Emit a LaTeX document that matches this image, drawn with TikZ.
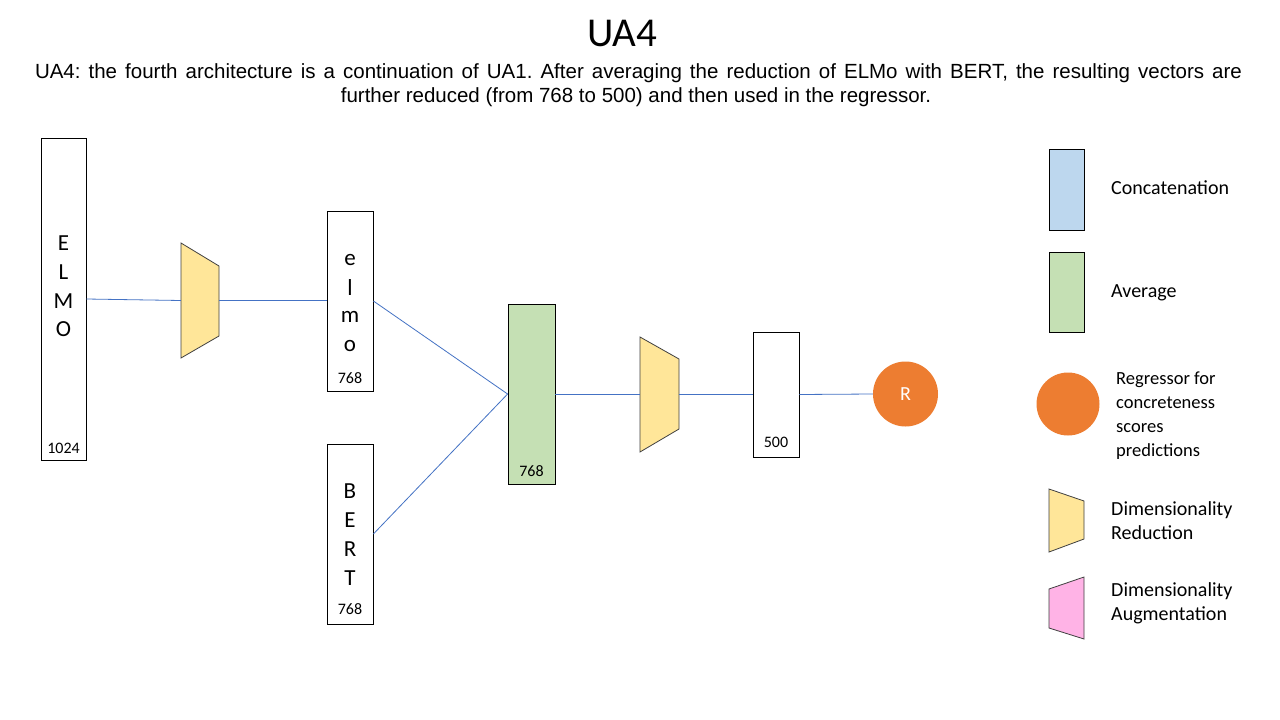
\documentclass[tikz,border=0pt]{standalone}
\usepackage{fontspec}
\setmainfont{Carlito}
\newfontfamily\arialfont{Liberation Sans}
\definecolor{linkblue}{HTML}{4472C4}
\definecolor{redyellow}{HTML}{FFE699}
\definecolor{avggreen}{HTML}{C5E0B4}
\definecolor{catblue}{HTML}{BDD7EE}
\definecolor{regorange}{HTML}{ED7D31}
\definecolor{augpink}{HTML}{FFB3E6}
\definecolor{trapedge}{HTML}{404040}
\frenchspacing
\begin{document}
\begin{tikzpicture}[x=1pt,y=-1pt,
  vec/.style={draw=black, line width=0.8pt, fill=white, inner sep=0pt},
  letter/.style={font=\fontsize{23}{26}\selectfont, inner sep=0pt},
  dimnum/.style={font=\fontsize{16}{18}\selectfont, inner sep=0pt},
  link/.style={draw=linkblue, line width=0.8pt},
  trap/.style={draw=trapedge, line width=0.8pt, fill=redyellow},
  ghost/.style={inner sep=0pt, minimum width=#1},
  legtext/.style={font=\fontsize{20}{24}\selectfont, anchor=west, inner sep=0pt, align=left},
]
\useasboundingbox (0,0) rectangle (1280,720);
\fill[white] (0,0) rectangle (1280,720);

% title and description
\node[font=\fontsize{41}{48}\selectfont, inner sep=0pt] (title) at (622,33) {UA4};
\node[font=\arialfont\fontsize{20.5}{23}\selectfont, inner sep=0pt] (desc1) at (638.5,73)
  {\makebox[1207pt][s]{UA4: the fourth architecture is a continuation of UA1. After averaging the reduction of ELMo with BERT, the resulting vectors are}};
\node[font=\arialfont\fontsize{20.5}{23}\selectfont, inner sep=0pt] (desc2) at (636,97)
  {further reduced (from 768 to 500) and then used in the regressor.};

% ELMO vector
\node[vec, minimum width=45pt, minimum height=322pt] (ELMO) at (63.5,299) {};
\node[letter] (E1) at (63.5,243) {E};
\node[letter] (L1) at (63.5,272) {L};
\node[letter] (M1) at (63.5,301) {M};
\node[letter] (O1) at (63.5,329) {O};
\node[dimnum] (n1024) at (63.5,448) {1024};

% reduction 1
\node[ghost=38pt, minimum height=115pt] (red1) at (200,300.5) {};
\draw[trap] (181,243) -- (219,266) -- (219,336) -- (181,358) -- cycle;

% elmo reduced vector
\node[vec, minimum width=46pt, minimum height=180pt] (elmo) at (350,301) {};
\node[letter] (e2) at (350,260) {e};
\node[letter] (l2) at (350,288) {l};
\node[letter] (m2) at (350,317) {m};
\node[letter] (o2) at (350,346) {o};
\node[dimnum] (n768a) at (350,378) {768};

% BERT vector
\node[vec, minimum width=46pt, minimum height=180pt] (BERT) at (350,534) {};
\node[letter] (B3) at (350,491) {B};
\node[letter] (E3) at (350,520) {E};
\node[letter] (R3) at (350,549) {R};
\node[letter] (T3) at (350,578) {T};
\node[dimnum] (n768b) at (350,609) {768};

% average
\node[vec, fill=avggreen, minimum width=47pt, minimum height=180pt] (avg) at (531.5,394) {};
\node[dimnum] (n768c) at (531.5,471) {768};

% reduction 2
\node[ghost=39pt, minimum height=115pt] (red2) at (659.5,394) {};
\draw[trap] (640,337) -- (679,359) -- (679,429) -- (640,452) -- cycle;

% 500 vector
\node[vec, minimum width=46pt, minimum height=125pt] (v500) at (776,394.5) {};
\node[dimnum] (n500) at (776,442) {500};

% regressor
\node[circle, fill=regorange, minimum size=65pt, inner sep=0pt, text=white,
      font=\fontsize{20}{24}\selectfont] (R) at (905.5,394) {R};

% connectors
\draw[link] (ELMO.east) -- (red1.west);
\draw[link] (red1.east) -- (red1.east -| elmo.west);
\draw[link] (elmo.east) -- (avg.west);
\draw[link] (BERT.east) -- (avg.west);
\draw[link] (avg.east) -- (red2.west);
\draw[link] (red2.east) -- (red2.east -| v500.west);
\draw[link] (v500.east) -- (R.west);

% legend
\node[vec, fill=catblue, minimum width=35pt, minimum height=81pt] (legcat) at (1066.5,189.5) {};
\node[legtext] (legcatt) at (1111,188) {Concatenation};
\node[vec, fill=avggreen, minimum width=35pt, minimum height=80pt] (legavg) at (1066.5,292) {};
\node[legtext] (legavgt) at (1111,292.5) {Average};
\node[circle, fill=regorange, minimum size=63pt, inner sep=0pt] (legreg) at (1068,404) {};
\node[legtext, font=\fontsize{18.5}{24}\selectfont] (legregt) at (1116,416)
  {Regressor for\\concreteness\\scores\\predictions};
\draw[trap] (1049,489) -- (1084,501) -- (1084,539) -- (1049,552) -- cycle;
\node[legtext] (legredt) at (1111,520.5) {Dimensionality\\Reduction};
\draw[trap, fill=augpink] (1049,589) -- (1084,577) -- (1084,639) -- (1049,628) -- cycle;
\node[legtext] (legaugt) at (1111,603.5) {Dimensionality\\Augmentation};
\end{tikzpicture}
\end{document}
